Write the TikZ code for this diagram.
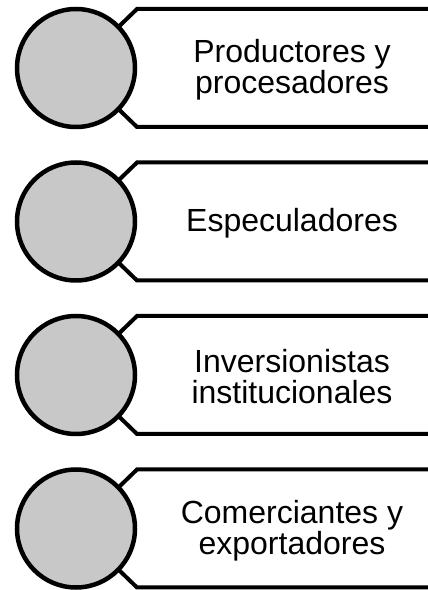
\documentclass[tikz,border=0pt]{standalone}
\usepackage{fontspec}
\setmainfont{Liberation Sans}
\usetikzlibrary{positioning}
\definecolor{circlegray}{RGB}{200,200,200}
\tikzset{mycircle/.style = {draw,line width=4.5pt,fill=circlegray,circle,minimum size=118pt,inner sep=0pt},
	mybox/.style = {draw,line width=4pt,fill=white,line join=miter},
	mylabel/.style = {align=center,font=\fontsize{32}{31}\selectfont}}
\NewDocumentCommand{\fstage}{m m m}{%
	\coordinate (o#1) at (76,#2);
	\draw[mybox] (o#1) -- ++(61,59) -- ++(340,0) -- ++(0,-118) -- ++(-340,0) -- cycle;
	\node[mycircle] (c#1) at (o#1) {};
	\node[mylabel] (t#1) at ([xshift=216pt,yshift=-2pt]o#1) {#3};
}

\begin{document}
\begin{tikzpicture}[x=1pt,y=1pt]
\useasboundingbox (0,0) rectangle (428,590);
\clip (0,0) rectangle (428,590);
\fstage{1}{522}{Productores y\\procesadores}
\fstage{2}{368.5}{Especuladores}
\fstage{3}{215}{Inversionistas\\institucionales}
\fstage{4}{61.5}{Comerciantes y\\exportadores}
\end{tikzpicture}
\end{document}
